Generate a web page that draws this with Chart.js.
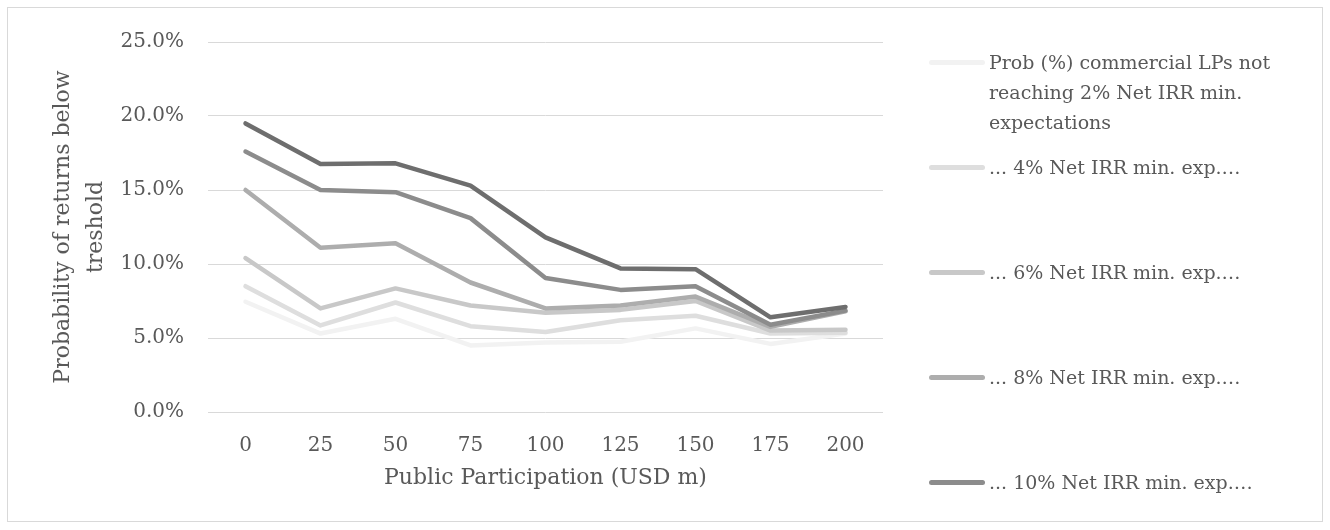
<!DOCTYPE html>
<html>
<head>
<meta charset="utf-8">
<script src="https://cdn.jsdelivr.net/npm/chart.js@4/dist/chart.umd.min.js"></script>
<style>
  html, body { margin: 0; padding: 0; background: #fff; }
  #wrap { position: relative; width: 1330px; height: 530px; overflow: hidden; }
  #frame { position: absolute; left: 7px; top: 7px; width: 1316px; height: 515px; border: 1px solid #d9d9d9; box-sizing: border-box; pointer-events: none; }
  canvas { position: absolute; left: 0; top: 0; }
  #legend { position: absolute; left: 929px; top: 47px; width: 395px; height: 476px; overflow: hidden;
            font-family: 'DejaVu Serif', serif; font-size: 19px; line-height: 30px; color: #595959; }
  .item { position: relative; height: 105px; padding-left: 60px; }
  .swatch { position: absolute; left: 0; top: 12.5px; width: 56px; height: 5px; border-radius: 3px; }
</style>
</head>
<body>
<div id="wrap">
  <canvas id="chart" width="1330" height="530"></canvas>
  <div id="frame"></div>
  <div id="legend"></div>
</div>
<script>
// ── Data (percent) ─────────────────────────────────────────────
const categories = ['0', '25', '50', '75', '100', '125', '150', '175', '200'];

const irr2  = [7.45, 5.3, 6.3, 4.5, 4.7, 4.75, 5.65, 4.6, 5.3];
const irr4  = [8.5, 5.85, 7.4, 5.8, 5.4, 6.2, 6.5, 5.3, 5.35];
const irr6  = [10.4, 7.0, 8.35, 7.2, 6.7, 6.9, 7.5, 5.5, 5.55];
const irr8  = [15.0, 11.1, 11.4, 8.75, 7.0, 7.2, 7.8, 5.75, 6.8];
const irr10 = [17.6, 15.0, 14.85, 13.1, 9.05, 8.25, 8.5, 5.9, 6.85];
const irr12 = [19.5, 16.75, 16.8, 15.3, 11.8, 9.7, 9.65, 6.4, 7.1];

const seriesLabels = [
  ['Prob (%) commercial LPs not', 'reaching 2% Net IRR min.', 'expectations'],
  '... 4% Net IRR min. exp.…',
  '... 6% Net IRR min. exp.…',
  '... 8% Net IRR min. exp.…',
  '... 10% Net IRR min. exp.…',
  '... 12% Net IRR min. exp.…',
];
const seriesColors = ['#f2f2f2', '#dedede', '#c8c8c8', '#adadad', '#8c8c8c', '#6e6e6e'];
const yTicks = [0, 5, 10, 15, 20, 25];

// the original legend box is cut off after five entries
const LEGEND_VISIBLE = 5;

Chart.defaults.font.family = "'DejaVu Serif', serif";
Chart.defaults.font.size = 20;
Chart.defaults.color = '#595959';

const allSeries = [irr2, irr4, irr6, irr8, irr10, irr12];

const chart = new Chart(document.getElementById('chart'), {
  type: 'line',
  data: {
    labels: categories,
    datasets: allSeries.map((d, i) => ({
      label: seriesLabels[i],
      data: d,
      borderColor: seriesColors[i],
      backgroundColor: seriesColors[i],
      borderWidth: 4.5,
      borderCapStyle: 'round',
      borderJoinStyle: 'round',
      pointRadius: 0,
      tension: 0,
      order: -i,   // later series drawn on top, like Excel
    })),
  },
  options: {
    responsive: false,
    animation: false,
    layout: { padding: { left: 0, top: 42, right: 447, bottom: 0 } },
    plugins: { legend: { display: false }, tooltip: { enabled: false } },
    scales: {
      x: {
        offset: true,
        grid: { display: false },
        border: { display: false },
        ticks: { padding: 14, maxRotation: 0 },
        title: {
          display: true,
          text: 'Public Participation (USD m)',
          font: { size: 22, lineHeight: 1.2 },
          padding: { top: 0, bottom: 39 },
        },
        afterFit: s => { s.height = 118; },
      },
      y: {
        min: 0, max: 25,
        afterBuildTicks: s => { s.ticks = yTicks.map(v => ({ value: v })); },
        grid: { color: '#d9d9d9', lineWidth: 1, drawTicks: false },
        border: { display: false },
        ticks: { padding: 24, callback: v => v.toFixed(1) + '%' },
        title: {
          display: true,
          text: ['Probability of returns below', 'treshold'],
          font: { size: 22, lineHeight: '33px' },
          padding: { top: 47, bottom: 0 },
        },
        afterFit: s => { s.width = 208; },
      },
    },
  },
});

// ── HTML legend ────────────────────────────────────────────────
const legendEl = document.getElementById('legend');
chart.data.datasets.slice(0, LEGEND_VISIBLE).forEach(ds => {
  const item = document.createElement('div');
  item.className = 'item';
  const sw = document.createElement('span');
  sw.className = 'swatch';
  sw.style.background = ds.borderColor;
  item.appendChild(sw);
  const lines = Array.isArray(ds.label) ? ds.label : [ds.label];
  lines.forEach(t => {
    const d = document.createElement('div');
    d.textContent = t;
    item.appendChild(d);
  });
  legendEl.appendChild(item);
});
</script>
</body>
</html>
